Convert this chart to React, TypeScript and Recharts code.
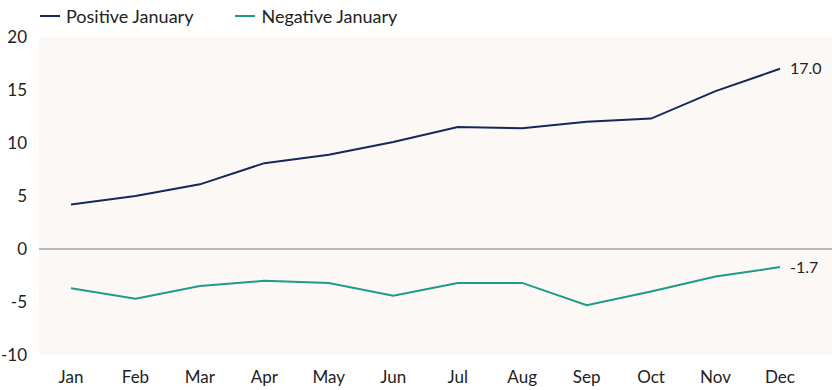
import React from "react";
import {
  LineChart,
  Line,
  XAxis,
  YAxis,
  CartesianGrid,
  ReferenceLine,
  Legend,
  LabelList,
} from "recharts";

const months = ["Jan", "Feb", "Mar", "Apr", "May", "Jun", "Jul", "Aug", "Sep", "Oct", "Nov", "Dec"];
const positiveJanuary = [4.2, 5.0, 6.1, 8.1, 8.9, 10.1, 11.5, 11.4, 12.0, 12.3, 14.9, 17.0];
const negativeJanuary = [-3.7, -4.7, -3.5, -3.0, -3.2, -4.4, -3.2, -3.2, -5.3, -4.0, -2.6, -1.7];
const yTicks = [-10, -5, 0, 5, 10, 15, 20];

const data = months.map((m, i) => ({
  month: m,
  positive: positiveJanuary[i],
  negative: negativeJanuary[i],
}));

const FONT = "Lato, 'Noto Sans', sans-serif";
const NAVY = "#14285c";
const TEAL = "#1c9c87";

const legendItems = [
  { label: "Positive January", color: NAVY },
  { label: "Negative January", color: TEAL },
];

const renderLegend = () => (
  <div style={{ display: "flex", height: 24, alignItems: "center", paddingLeft: 40, fontFamily: FONT }}>
    {legendItems.map((it) => (
      <div key={it.label} style={{ display: "flex", alignItems: "center", marginRight: 42 }}>
        <span style={{ display: "inline-block", width: 20, height: 2, background: it.color, marginRight: 6 }} />
        <span style={{ fontSize: 18, color: "#222" }}>{it.label}</span>
      </div>
    ))}
  </div>
);

const lastLabel = (props: any) => {
  const { x, y, value, index } = props;
  if (index !== months.length - 1) return null;
  return (
    <text x={x + 10} y={y} dy="0.35em" fontSize={16} fill="#222" fontFamily={FONT}>
      {Number(value).toFixed(1)}
    </text>
  );
};

const App = () => {
  return (
    <div style={{ position: "absolute", left: 0, top: 0, width: 832, height: 390, background: "#fff" }}>
      <LineChart width={832} height={390} data={data} margin={{ top: 13, right: 0, bottom: 0, left: 0 }}>
        <CartesianGrid fill="#fcf8f6" horizontal={false} vertical={false} />
        <Legend verticalAlign="top" align="left" content={renderLegend} wrapperStyle={{ top: 4, left: 0 }} />
        <XAxis
          dataKey="month"
          axisLine={false}
          tickLine={false}
          tickSize={0}
          tickMargin={16}
          height={35}
          padding={{ left: 32, right: 52 }}
          tick={{ fontSize: 17, fill: "#222", fontFamily: FONT }}
        />
        <YAxis
          domain={[-10, 20]}
          ticks={yTicks}
          axisLine={false}
          tickLine={false}
          tickSize={0}
          tickMargin={12}
          width={39}
          tick={{ fontSize: 17, fill: "#222", fontFamily: FONT }}
        />
        <ReferenceLine y={0} stroke="#a3a3a3" strokeWidth={1.5} />
        <Line dataKey="positive" stroke={NAVY} strokeWidth={2} dot={false} isAnimationActive={false}>
          <LabelList dataKey="positive" content={lastLabel} />
        </Line>
        <Line dataKey="negative" stroke={TEAL} strokeWidth={2} dot={false} isAnimationActive={false}>
          <LabelList dataKey="negative" content={lastLabel} />
        </Line>
      </LineChart>
    </div>
  );
};

export default App;
